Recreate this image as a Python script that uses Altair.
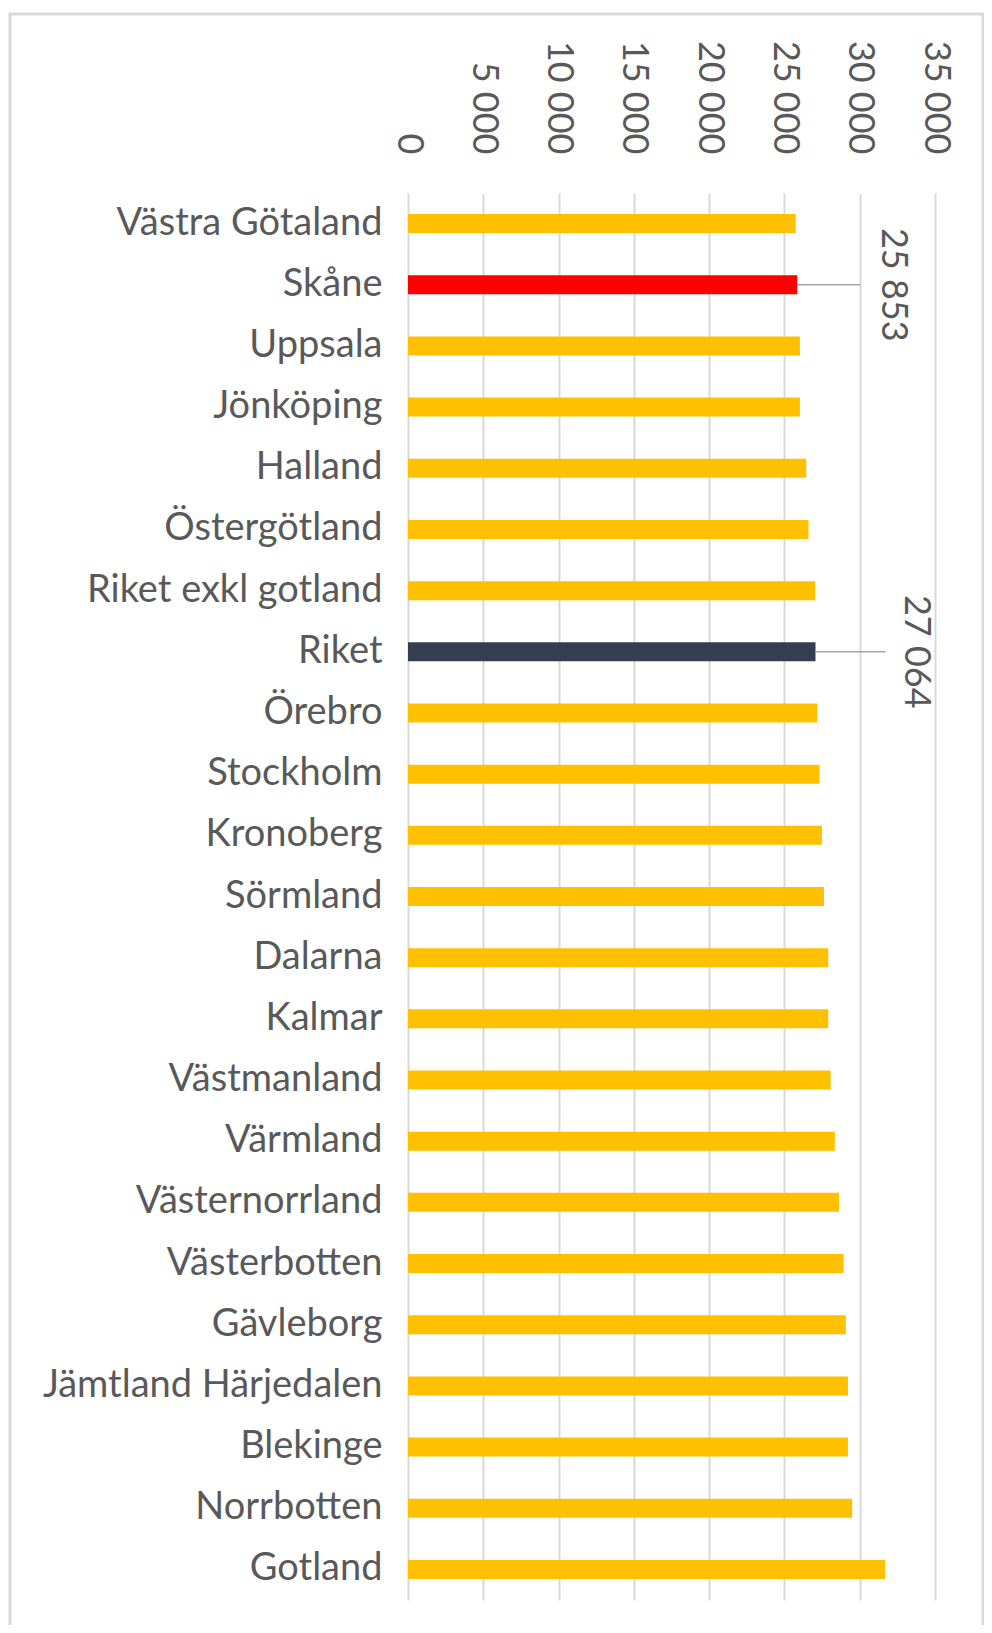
import altair as alt
import pandas as pd

regions = ["Västra Götaland", "Skåne", "Uppsala", "Jönköping", "Halland",
           "Östergötland", "Riket exkl gotland", "Riket", "Örebro", "Stockholm",
           "Kronoberg", "Sörmland", "Dalarna", "Kalmar", "Västmanland", "Värmland",
           "Västernorrland", "Västerbotten", "Gävleborg", "Jämtland Härjedalen",
           "Blekinge", "Norrbotten", "Gotland"]
values = [25750, 25853, 26030, 26030, 26450, 26600, 27040, 27064, 27180, 27330,
          27490, 27630, 27910, 27910, 28070, 28350, 28630, 28930, 29080, 29220,
          29220, 29500, 31690]
groups = ["övrig", "Skåne", "övrig", "övrig", "övrig", "övrig", "övrig", "Riket",
          "övrig", "övrig", "övrig", "övrig", "övrig", "övrig", "övrig", "övrig",
          "övrig", "övrig", "övrig", "övrig", "övrig", "övrig", "övrig"]
tick_values = [0, 5000, 10000, 15000, 20000, 25000, 30000, 35000]

df = pd.DataFrame({"region": regions, "value": values, "group": groups})
df["label"] = [f"{v:,}".replace(",", " ") for v in values]

FONT = "Lato"
TXT = "#595959"

x = alt.X("value:Q", scale=alt.Scale(domain=[0, 35000], nice=False),
          axis=alt.Axis(orient="top", values=tick_values, labelAngle=90,
                        labelAlign="right", labelBaseline="middle",
                        labelPadding=39, labelFontSize=36, labelFont=FONT,
                        labelColor=TXT, ticks=False, domain=False, grid=True,
                        gridColor="#D9D9D9", gridWidth=2, title=None,
                        labelExpr="replace(format(datum.value, ','), ',', ' ')"))
y = alt.Y("region:N", sort=regions,
          scale=alt.Scale(paddingInner=0, paddingOuter=0),
          axis=alt.Axis(labelFontSize=38, labelFont=FONT, labelColor=TXT,
                        labelPadding=26, labelLimit=500, ticks=False,
                        domain=False, grid=False, title=None))

base = alt.Chart(df)

bars = base.mark_bar(size=19).encode(
    x=x, y=y,
    color=alt.Color("group:N",
                    scale=alt.Scale(domain=["övrig", "Skåne", "Riket"],
                                    range=["#FFC000", "#FF0000", "#333F50"]),
                    legend=None))

def callout(name, line_len, text_off):
    sub = base.transform_filter(alt.datum.region == name)
    rule = sub.mark_rule(color="#A6A6A6", strokeWidth=1.5, x2Offset=line_len).encode(
        x="value:Q", x2="value:Q", y=alt.Y("region:N", sort=regions))
    txt = sub.mark_text(angle=90, align="center", baseline="middle",
                        fontSize=36, font=FONT, color=TXT, xOffset=text_off).encode(
        x="value:Q", y=alt.Y("region:N", sort=regions), text="label:N")
    return rule + txt

frame = alt.Chart(alt.Data(values=[{"k": 1}])).mark_rect(
    fill=None, stroke="#D9D9D9", strokeWidth=3).encode(
    x=alt.value(-398), x2=alt.value(575), y=alt.value(-179), y2=alt.value(1480))

chart = alt.layer(frame, bars, callout("Skåne", 63, 96), callout("Riket", 70, 100)).properties(
    width=527, height=1407,
    autosize=alt.AutoSizeParams(type="none"),
    padding={"left": 400, "top": 185, "right": 49, "bottom": 25},
).configure_view(stroke=None)

chart.save("out.html", embed_options={"renderer": "svg", "actions": False})
